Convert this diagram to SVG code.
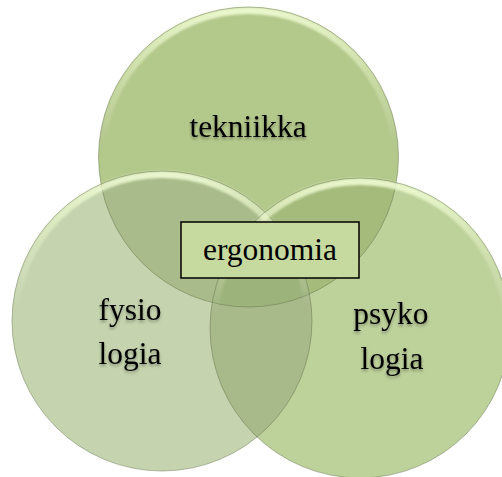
<svg xmlns="http://www.w3.org/2000/svg" width="502" height="477" viewBox="0 0 502 477">
<style>
.lbl{font-family:"Liberation Serif","Times New Roman",serif;font-size:31.5px;fill:#000;text-anchor:middle;filter:url(#tsh)}
.edge{fill:none;stroke:#5f6d48;stroke-opacity:0.45;stroke-width:1}
.hl{fill:none;stroke:url(#hlg);stroke-width:7;filter:url(#soft)}
</style>
<defs>
<filter id="tsh" x="-20%" y="-30%" width="140%" height="170%">
<feDropShadow dx="0" dy="2" stdDeviation="1.6" flood-color="#000" flood-opacity="0.35"/>
</filter>
<filter id="soft" x="-10%" y="-10%" width="120%" height="120%">
<feGaussianBlur stdDeviation="1.3"/>
</filter>
<linearGradient id="hlg" x1="0" y1="0" x2="0" y2="1">
<stop offset="0" stop-color="#f4ffd8" stop-opacity="0.85"/>
<stop offset="0.25" stop-color="#f0fbd0" stop-opacity="0.35"/>
<stop offset="0.45" stop-color="#ffffff" stop-opacity="0"/>
</linearGradient>
<clipPath id="cT"><circle cx="248.5" cy="157" r="150"/></clipPath>
<clipPath id="cL"><circle cx="162" cy="321" r="150"/></clipPath>
</defs>

<g id="fills">
<circle cx="162" cy="321" r="150" fill="#c5d4ae"/>
<circle cx="360" cy="328" r="150" fill="#bdd19b"/>
<circle cx="248.5" cy="157" r="150" fill="#b3c88b"/>
<circle cx="162" cy="321" r="150" fill="#a9bb8a" clip-path="url(#cT)"/>
<circle cx="360" cy="328" r="150" fill="#a5bb7c" clip-path="url(#cT)"/>
<circle cx="360" cy="328" r="150" fill="#a8b98a" clip-path="url(#cL)"/>
<g clip-path="url(#cT)"><circle cx="360" cy="328" r="150" fill="#9db37c" clip-path="url(#cL)"/></g>
</g>

<g id="node-tekniikka">
<circle class="hl" cx="248.5" cy="157" r="146.5"/>
<circle class="edge" cx="248.5" cy="157" r="150"/>
<text class="lbl" x="248" y="137">tekniikka</text>
</g>

<g id="node-fysiologia">
<circle class="hl" cx="162" cy="321" r="146.5"/>
<circle class="edge" cx="162" cy="321" r="150"/>
<text class="lbl" x="130" y="320">fysio</text>
<text class="lbl" x="130" y="364">logia</text>
</g>

<g id="node-psykologia">
<circle class="hl" cx="360" cy="328" r="146.5"/>
<circle class="edge" cx="360" cy="328" r="150"/>
<text class="lbl" x="391" y="324">psyko</text>
<text class="lbl" x="392" y="369">logia</text>
</g>

<g id="node-ergonomia">
<rect x="181" y="222" width="178" height="56" fill="#c6d99e" stroke="#000" stroke-width="1.5"/>
<text class="lbl" x="270" y="260" style="filter:none">ergonomia</text>
</g>

<g id="connectors"></g>
</svg>
